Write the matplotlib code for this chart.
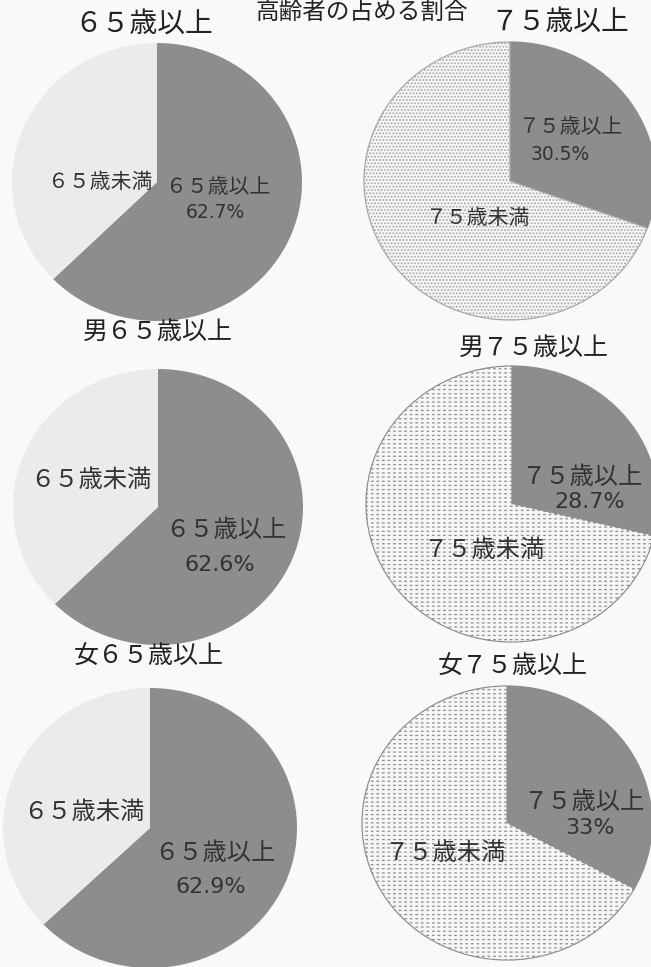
import matplotlib
matplotlib.use("Agg")
import matplotlib.pyplot as plt

plt.rcParams['font.family'] = ['Noto Sans CJK JP', 'DejaVu Sans']
plt.rcParams['hatch.linewidth'] = 0.9

W, H = 651, 967

main_title = "高齢者の占める割合"
chart_titles = ["６５歳以上", "７５歳以上", "男６５歳以上", "男７５歳以上", "女６５歳以上", "女７５歳以上"]
over_labels = ["６５歳以上", "７５歳以上", "６５歳以上", "７５歳以上", "６５歳以上", "７５歳以上"]
under_labels = ["６５歳未満", "７５歳未満", "６５歳未満", "７５歳未満", "６５歳未満", "７５歳未満"]
share_over = [62.7, 30.5, 62.6, 28.7, 62.9, 33.0]
pct_labels = ["62.7%", "30.5%", "62.6%", "28.7%", "62.9%", "33%"]
kinds = ["65", "75", "65", "75", "65", "75"]

# layout (pixels): pie centre & radii
pies = [(157, 182, 145, 139), (510, 181, 146, 139),
        (158, 507, 145, 138), (512, 504, 146, 138),
        (150, 828, 147, 140), (507, 823, 145, 137)]
title_pos = [(144, 24, 20), (560, 22, 20), (158, 332, 18), (534, 348, 18), (149, 657, 18), (513, 667, 18)]
under_pos = [(100, 182), (478, 218), (91, 480), (484, 550), (84, 812), (445, 853)]
over_pos = [(218, 187), (571, 127), (226, 530), (582, 477), (215, 853), (584, 802)]
pct_pos = [(215, 213), (560, 155), (220, 565), (590, 502), (211, 887), (590, 828)]
inner_size = [15, 15, 17.5, 17.5, 17.5, 17.5]
pct_size = [13.5, 13.5, 16, 16, 16, 16]

DARK = '#8d8d8d'
LIGHT = '#ebebeb'
PALE = '#f6f6f6'
TXT = '#333333'

fig = plt.figure(figsize=(W / 100, H / 100), dpi=100)
fig.patch.set_facecolor('#f9f9f9')


def fx(x):
    return x / W


def fy(y):
    return 1 - y / H


for i in range(6):
    cx, cy, rx, ry = pies[i]
    ax = fig.add_axes([fx(cx - rx), fy(cy + ry), 2 * rx / W, 2 * ry / H])
    vals = [share_over[i], 100 - share_over[i]]
    if kinds[i] == "65":
        ax.pie(vals, colors=[DARK, LIGHT], startangle=90,
               counterclock=False, radius=1, center=(0, 0),
               wedgeprops=dict(linewidth=0))
    else:
        wedges, _ = ax.pie(vals, colors=[DARK, PALE], startangle=90,
                           counterclock=False, radius=1, center=(0, 0),
                           wedgeprops=dict(linewidth=0.9, edgecolor='#8a8a8a'))
        wedges[0].set_edgecolor(DARK)
        if i == 1:
            wedges[1].set_edgecolor('#a8a8a8')
            wedges[1].set_hatch('.....')
        else:
            wedges[1].set_edgecolor('#8f8f8f')
            wedges[1].set_hatch('----')
            # break the horizontal lines into short dashes
            brk, _ = ax.pie(vals, colors=['none', 'none'], startangle=90,
                            counterclock=False, radius=0.995, center=(0, 0),
                            wedgeprops=dict(linewidth=0, edgecolor=PALE))
            brk[0].set_visible(False)
            brk[1].set_hatch('|||')
            if hasattr(brk[1], 'set_hatch_linewidth'):
                brk[1].set_hatch_linewidth(2.0)
    ax.set_aspect('auto')
    ax.set_xlim(-1, 1)
    ax.set_ylim(-1, 1)
    ax.axis('off')

    tx, ty, ts = title_pos[i]
    fig.text(fx(tx), fy(ty), chart_titles[i], ha='center', va='center',
             fontsize=ts, color='#222222')
    s = inner_size[i]
    ux, uy = under_pos[i]
    fig.text(fx(ux), fy(uy), under_labels[i], ha='center', va='center', fontsize=s, color=TXT)
    ox, oy = over_pos[i]
    fig.text(fx(ox), fy(oy), over_labels[i], ha='center', va='center', fontsize=s, color=TXT)
    px, py = pct_pos[i]
    fig.text(fx(px), fy(py), pct_labels[i], ha='center', va='center',
             fontsize=pct_size[i], color=TXT, family=['DejaVu Sans'])

fig.text(fx(362), fy(12), main_title, ha='center', va='center', fontsize=17, color='#222222')

fig.savefig('out.png', dpi=100, facecolor=fig.get_facecolor())
